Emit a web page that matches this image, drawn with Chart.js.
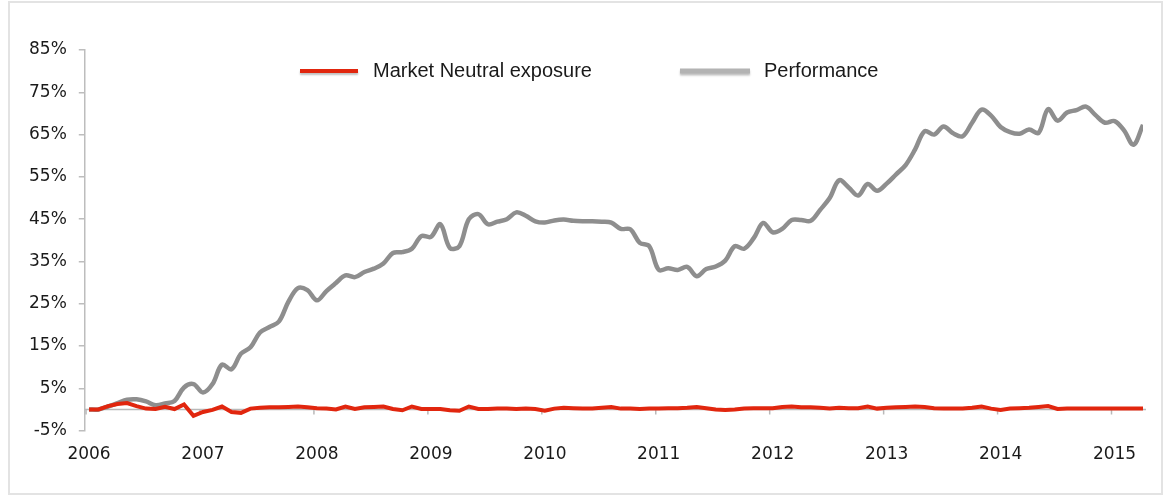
<!DOCTYPE html>
<html lang="en">
  <head>
    <meta charset="UTF-8" />
    <title>Market Neutral exposure vs Performance</title>
    <script src="https://cdn.jsdelivr.net/npm/chart.js@4.4.1/dist/chart.umd.min.js"></script>
    <style>
      body { margin: 0; background: #fff; }
      #frame {
        position: absolute; left: 8px; top: 1px; width: 1151px; height: 490px;
        border: 2px solid #e3e3e3;
      }
      #wrap { position: absolute; left: 0; top: 0; width: 1163px; height: 495px; }
    </style>
  </head>
  <body>
    <div id="frame"></div>
    <div id="wrap"><canvas id="myChart" width="1163" height="495"></canvas></div>
    <script>
      // monthly, Jan 2006 .. Apr 2015
      const months = [];
      for (let y = 2006; y <= 2015; y++) {
        for (let m = 1; m <= 12; m++) {
          if (y === 2015 && m > 4) break;
          months.push(y + "-" + String(m).padStart(2, "0"));
        }
      }

      const yearLabels = ["2006", "2007", "2008", "2009", "2010", "2011", "2012", "2013", "2014", "2015"];
      const yTicks = [-5, 5, 15, 25, 35, 45, 55, 65, 75, 85];

      const exposure = [
        0, 0, 0.8, 1.3, 1.5, 0.8, 0.2, 0.1, 0.6, 0.1, 1.2, -1.5,
        -0.6, -0.1, 0.7, -0.6, -0.8, 0.2, 0.4, 0.5, 0.5, 0.6, 0.7, 0.5,
        0.3, 0.2, 0.0, 0.7, 0.1, 0.5, 0.6, 0.7, 0.1, -0.2, 0.7, 0.1,
        0.1, 0.1, -0.2, -0.3, 0.7, 0.1, 0.1, 0.2, 0.2, 0.1, 0.2, 0.1,
        -0.3, 0.2, 0.4, 0.3, 0.2, 0.2, 0.4, 0.6, 0.2, 0.2, 0.1, 0.2,
        0.2, 0.3, 0.3, 0.4, 0.6, 0.3, 0.0, -0.1, 0.0, 0.2, 0.3, 0.3,
        0.3, 0.6, 0.7, 0.5, 0.5, 0.4, 0.2, 0.4, 0.3, 0.3, 0.7, 0.2,
        0.4, 0.5, 0.6, 0.7, 0.6, 0.3, 0.2, 0.2, 0.2, 0.4, 0.7, 0.2,
        -0.1, 0.2, 0.3, 0.4, 0.6, 0.8, 0.1, 0.2, 0.2, 0.2, 0.2, 0.2,
        0.2, 0.2, 0.2, 0.2
      ];

      const performance = [
        0, 0, 0.7, 1.5, 2.3, 2.4, 1.9, 1.0, 1.4, 2.0, 5.2, 6.0,
        4.0, 6.0, 10.6, 9.5, 13.2, 14.7, 18.2, 19.5, 20.8, 25.5, 28.7, 28.2,
        25.8, 28.0, 29.9, 31.7, 31.3, 32.5, 33.3, 34.5, 37.0, 37.2, 38.0, 41.0,
        40.8, 43.8, 38.2, 38.6, 45.0, 46.2, 43.8, 44.4, 45.0, 46.6, 45.8, 44.5,
        44.2, 44.7, 44.9, 44.6, 44.5, 44.5, 44.4, 44.2, 42.7, 42.6, 39.4, 38.6,
        33.0, 33.4, 33.0, 33.7, 31.5, 33.2, 33.8, 35.2, 38.6, 38.0, 40.5, 44.1,
        41.9, 42.7, 44.8, 44.8, 44.6, 47.2, 50.0, 54.2, 52.5, 50.6, 53.3, 51.7,
        53.4, 55.6, 57.8, 61.5, 65.8, 65.0, 66.9, 65.3, 64.6, 67.8, 70.9, 69.5,
        66.8, 65.6, 65.2, 66.2, 65.4, 71.0, 68.3, 70.2, 70.8, 71.6, 69.6, 67.8,
        68.2, 66.0, 62.6, 67.3
      ];

      const red = "#e1260e";
      const grey = "#8e8e8e";
      const tickFont = { family: "'DejaVu Sans', Verdana, sans-serif", size: 17 };

      // zero line with year ticks, drawn under the lines
      const zeroLine = {
        id: "zeroLine",
        beforeDatasetsDraw(chart) {
          const { ctx, chartArea, scales } = chart;
          const y0 = scales.y.getPixelForValue(0);
          ctx.save();
          ctx.strokeStyle = "#b9b9b9";
          ctx.lineWidth = 1.5;
          ctx.beginPath();
          ctx.moveTo(chartArea.left, y0);
          ctx.lineTo(chartArea.right + 3, y0);
          scales.x.ticks.forEach((t) => {
            const x = scales.x.getPixelForValue(t.value) - 3;
            ctx.moveTo(x, y0);
            ctx.lineTo(x, y0 + 5);
          });
          ctx.stroke();
          ctx.restore();
        },
      };

      const legendBox = {
        id: "legendBox",
        afterDraw(chart) {
          const { ctx } = chart;
          const items = [
            { text: chart.data.datasets[0].label, color: red, x0: 300, x1: 358, w: 4, tx: 373 },
            { text: chart.data.datasets[1].label, color: "#b3b3b3", x0: 680, x1: 750, w: 5, tx: 764 },
          ];
          ctx.save();
          items.forEach((it) => {
            ctx.shadowColor = "rgba(0,0,0,0.25)";
            ctx.shadowOffsetY = 2;
            ctx.shadowBlur = 2;
            ctx.strokeStyle = it.color;
            ctx.lineWidth = it.w;
            ctx.beginPath();
            ctx.moveTo(it.x0, 71);
            ctx.lineTo(it.x1, 71);
            ctx.stroke();
            ctx.shadowColor = "transparent";
            ctx.fillStyle = "#1a1a1a";
            ctx.font = '20px "Liberation Sans", Arial, sans-serif';
            ctx.textBaseline = "middle";
            ctx.fillText(it.text, it.tx, 71);
          });
          ctx.restore();
        },
      };

      new Chart(document.getElementById("myChart"), {
        type: "line",
        data: {
          datasets: [
            {
              label: "Market Neutral exposure",
              data: exposure.map((v, i) => ({ x: i, y: v })),
              borderColor: red,
              backgroundColor: red,
              borderWidth: 4,
              pointRadius: 0,
              tension: 0,
              order: 1,
            },
            {
              label: "Performance",
              data: performance.map((v, i) => ({ x: i, y: v })),
              borderColor: grey,
              backgroundColor: grey,
              borderWidth: 4.5,
              pointRadius: 0,
              tension: 0.35,
              order: 2,
            },
          ],
        },
        plugins: [zeroLine, legendBox],
        options: {
          responsive: false,
          animation: false,
          layout: { padding: { left: 17, right: 20, top: 50, bottom: 16 } },
          plugins: { legend: { display: false }, tooltip: { enabled: false } },
          scales: {
            x: {
              type: "linear",
              min: -0.45,
              max: months.length - 1,
              afterBuildTicks(scale) {
                scale.ticks = yearLabels.map((y) => ({ value: months.indexOf(y + "-01") }));
              },
              border: { display: false },
              grid: { display: false, drawTicks: false },
              ticks: {
                padding: 14,
                color: "#1a1a1a",
                font: tickFont,
                callback: (v) => months[v].slice(0, 4),
              },
            },
            y: {
              min: -5,
              max: 85,
              afterBuildTicks(scale) {
                scale.ticks = yTicks.map((v) => ({ value: v }));
              },
              border: { color: "#bdbdbd", width: 1.5 },
              grid: { drawOnChartArea: false, tickLength: 6, tickColor: "#bdbdbd", lineWidth: 1.5 },
              ticks: {
                padding: 12,
                color: "#1a1a1a",
                font: tickFont,
                callback: (v) => v + "%",
              },
            },
          },
        },
      });
    </script>
  </body>
</html>
